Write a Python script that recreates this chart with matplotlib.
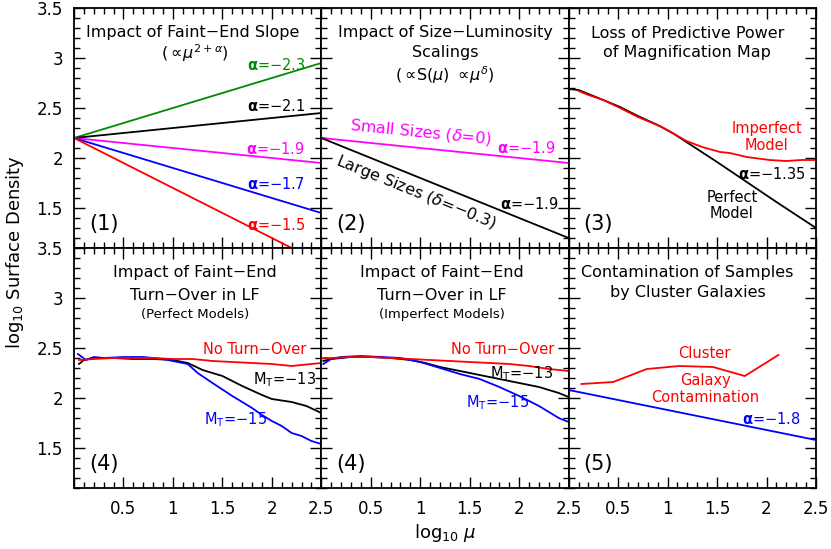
import numpy as np
import matplotlib
matplotlib.use('Agg')
import matplotlib.pyplot as plt
from matplotlib.ticker import MultipleLocator, FuncFormatter

plt.rcParams['font.family'] = ['DejaVu Sans']
plt.rcParams['mathtext.fontset'] = 'dejavusans'

# ---------------- data ----------------
# Panel (1): faint-end slope lines (start/end values)
p1_x = [0.0, 2.5]
p1_start = 2.2
p1_end = [2.95, 2.45, 1.95, 1.45, 0.95]
p1_labels = ['−2.3', '−2.1', '−1.9', '−1.7', '−1.5']
p1_colors = ['#008c00', 'black', '#ff00ff', '#0000ff', '#ff0000']
p1_lab_x = [2.04, 2.04, 2.04, 2.04, 2.04]
p1_lab_y = [2.93, 2.52, 2.09, 1.74, 1.33]

# Panel (2): size-luminosity scalings
p2_x = [0.0, 2.5]
p2_small = [2.2, 1.95]
p2_large = [2.2, 1.2]

# Panel (3): magnification map
p3_perfect_x = [0.0, 0.1, 0.2, 0.35, 0.52, 0.7, 0.92, 1.05, 1.19, 1.5, 1.8, 2.1, 2.5]
p3_perfect_y = [2.69, 2.68, 2.64, 2.58, 2.51, 2.42, 2.32, 2.25, 2.16, 1.96, 1.76, 1.56, 1.30]
p3_imperf_x = [0.1, 0.2, 0.35, 0.52, 0.7, 0.92, 1.05, 1.19, 1.35, 1.53, 1.63, 1.8, 2.03, 2.2, 2.35, 2.5]
p3_imperf_y = [2.67, 2.63, 2.58, 2.50, 2.41, 2.32, 2.25, 2.17, 2.11, 2.06, 2.05, 2.01, 1.98, 1.97, 1.98, 1.98]

# Panel (4) perfect models, turn-over
p4_red_x = [0.05, 0.2, 0.4, 0.6, 0.8, 1.0, 1.2, 1.4, 1.6, 1.8, 2.0, 2.2, 2.4, 2.5]
p4_red_y = [2.38, 2.39, 2.40, 2.40, 2.40, 2.39, 2.39, 2.37, 2.36, 2.35, 2.34, 2.32, 2.34, 2.35]
p4_blk_x = [0.05, 0.1, 0.2, 0.4, 0.6, 0.8, 1.0, 1.15, 1.3, 1.5, 1.7, 1.9, 2.0, 2.2, 2.35, 2.5]
p4_blk_y = [2.34, 2.38, 2.40, 2.40, 2.39, 2.39, 2.38, 2.35, 2.28, 2.22, 2.12, 2.03, 1.99, 1.96, 1.92, 1.85]
p4_blu_x = [0.04, 0.12, 0.2, 0.3, 0.5, 0.7, 0.9, 1.0, 1.15, 1.25, 1.4, 1.6, 1.8, 1.9, 2.0, 2.1, 2.2, 2.3, 2.4, 2.5]
p4_blu_y = [2.44, 2.38, 2.41, 2.40, 2.41, 2.41, 2.39, 2.37, 2.34, 2.25, 2.15, 2.02, 1.90, 1.83, 1.77, 1.72, 1.65, 1.62, 1.57, 1.54]

# Panel (4) imperfect models, turn-over
p5_red_x = [0.02, 0.1, 0.3, 0.5, 0.7, 0.9, 1.1, 1.3, 1.5, 1.7, 1.9, 2.1, 2.3, 2.5]
p5_red_y = [2.40, 2.40, 2.41, 2.41, 2.40, 2.39, 2.38, 2.37, 2.36, 2.35, 2.34, 2.32, 2.29, 2.27]
p5_blk_x = [0.02, 0.1, 0.3, 0.5, 0.7, 0.9, 1.05, 1.2, 1.4, 1.6, 1.8, 2.0, 2.2, 2.4, 2.5]
p5_blk_y = [2.37, 2.39, 2.41, 2.41, 2.40, 2.38, 2.35, 2.31, 2.27, 2.23, 2.19, 2.15, 2.11, 2.05, 2.01]
p5_blu_x = [0.02, 0.1, 0.2, 0.4, 0.6, 0.8, 1.0, 1.2, 1.4, 1.6, 1.8, 2.0, 2.2, 2.4, 2.5]
p5_blu_y = [2.34, 2.39, 2.41, 2.42, 2.41, 2.40, 2.36, 2.30, 2.24, 2.19, 2.11, 2.02, 1.92, 1.80, 1.76]

# Panel (5): cluster contamination
p6_red_x = [0.13, 0.45, 0.79, 1.12, 1.46, 1.78, 2.12]
p6_red_y = [2.14, 2.16, 2.29, 2.32, 2.31, 2.22, 2.43]
p6_blu_x = [0.0, 2.5]
p6_blu_y = [2.08, 1.58]

# ---------------- figure ----------------
W, H = 831, 549
fig, axes = plt.subplots(2, 3, figsize=(W / 100, H / 100), dpi=100)
fig.subplots_adjust(left=74 / W, right=816 / W, top=1 - 8 / H, bottom=1 - 488 / H,
                    wspace=0, hspace=0)

RED, BLUE, MAG, GRN = '#ff0000', '#0000ff', '#ff00ff', '#008c00'
LW = 1.3
TFS = 11.5
LFS = 10.5
NFS = 15

fmt = FuncFormatter(lambda v, p: '' if abs(v) < 1e-9 else ('%g' % v))

for i, ax in enumerate(axes.flat):
    r, c = divmod(i, 3)
    ax.set_xlim(0, 2.5)
    ax.set_ylim(1.1, 3.5)
    ax.xaxis.set_major_locator(MultipleLocator(0.5))
    ax.xaxis.set_minor_locator(MultipleLocator(0.1))
    ax.yaxis.set_major_locator(MultipleLocator(0.5))
    ax.yaxis.set_minor_locator(MultipleLocator(0.1))
    ax.xaxis.set_major_formatter(fmt)
    ax.yaxis.set_major_formatter(FuncFormatter(lambda v, p: '%g' % v))
    ax.tick_params(which='both', direction='in', top=True, right=True,
                   labelsize=12, width=1.0, colors='black')
    ax.tick_params(which='major', length=8)
    ax.tick_params(which='minor', length=4)
    ax.tick_params(axis='y', pad=8)
    ax.tick_params(axis='x', pad=9)
    if c != 0:
        ax.tick_params(labelleft=False)
    if r != 1:
        ax.tick_params(labelbottom=False)
    for s in ax.spines.values():
        s.set_linewidth(1.3)


def angle(ax, x0, y0, x1, y1):
    p0 = ax.transData.transform((x0, y0))
    p1 = ax.transData.transform((x1, y1))
    return np.degrees(np.arctan2(p1[1] - p0[1], p1[0] - p0[0]))


# Panel (1)
ax = axes[0, 0]
for ye, lab, col, lx, ly in zip(p1_end, p1_labels, p1_colors, p1_lab_x, p1_lab_y):
    ax.plot(p1_x, [p1_start, ye], color=col, lw=LW)
    ax.text(lx, ly, r'$\mathbf{\alpha}$=' + lab, color=col, fontsize=LFS,
            ha='center', va='center')
ax.text(1.2, 3.25, 'Impact of Faint−End Slope', fontsize=TFS, ha='center', va='center')
ax.text(1.22, 3.05, r'($\propto\!\mu^{2+\alpha}$)', fontsize=TFS, ha='center', va='center')
ax.text(0.15, 1.34, '(1)', fontsize=NFS, ha='left', va='center')

# Panel (2)
ax = axes[0, 1]
ax.plot(p2_x, p2_small, color=MAG, lw=LW)
ax.plot(p2_x, p2_large, color='black', lw=LW)
a_s = angle(ax, p2_x[0], p2_small[0], p2_x[1], p2_small[1])
a_l = angle(ax, p2_x[0], p2_large[0], p2_x[1], p2_large[1])
ax.text(1.0, 2.255, r'Small Sizes ($\delta$=0)', color=MAG, fontsize=TFS,
        ha='center', va='center', rotation=a_s, rotation_mode='anchor')
ax.text(2.07, 2.10, r'$\mathbf{\alpha}$=−1.9', color=MAG, fontsize=LFS, ha='center', va='center')
ax.text(0.96, 1.66, r'Large Sizes ($\delta$=−0.3)', color='black', fontsize=TFS,
        ha='center', va='center', rotation=a_l, rotation_mode='anchor')
ax.text(2.1, 1.54, r'$\mathbf{\alpha}$=−1.9', color='black', fontsize=LFS, ha='center', va='center')
ax.text(1.25, 3.25, 'Impact of Size−Luminosity', fontsize=TFS, ha='center', va='center')
ax.text(1.25, 3.05, 'Scalings', fontsize=TFS, ha='center', va='center')
ax.text(1.25, 2.83, r'($\propto\!$S($\mu$) $\propto\!\mu^{\delta}$)', fontsize=TFS, ha='center', va='center')
ax.text(0.15, 1.34, '(2)', fontsize=NFS, ha='left', va='center')

# Panel (3)
ax = axes[0, 2]
ax.plot(p3_perfect_x, p3_perfect_y, color='black', lw=LW)
ax.plot(p3_imperf_x, p3_imperf_y, color=RED, lw=LW)
ax.text(1.2, 3.25, 'Loss of Predictive Power', fontsize=TFS, ha='center', va='center')
ax.text(1.2, 3.05, 'of Magnification Map', fontsize=TFS, ha='center', va='center')
ax.text(2.0, 2.30, 'Imperfect', color=RED, fontsize=LFS, ha='center', va='center')
ax.text(2.0, 2.13, 'Model', color=RED, fontsize=LFS, ha='center', va='center')
ax.text(2.05, 1.84, r'$\mathbf{\alpha}$=−1.35', color='black', fontsize=LFS, ha='center', va='center')
ax.text(1.65, 1.60, 'Perfect', color='black', fontsize=LFS, ha='center', va='center')
ax.text(1.65, 1.44, 'Model', color='black', fontsize=LFS, ha='center', va='center')
ax.text(0.15, 1.34, '(3)', fontsize=NFS, ha='left', va='center')

# Panels (4)
for ax, rx, ry, kx, ky, bx, by, sub, m13, m15 in [
        (axes[1, 0], p4_red_x, p4_red_y, p4_blk_x, p4_blk_y, p4_blu_x, p4_blu_y,
         '(Perfect Models)', (2.13, 2.18), (1.63, 1.78)),
        (axes[1, 1], p5_red_x, p5_red_y, p5_blk_x, p5_blk_y, p5_blu_x, p5_blu_y,
         '(Imperfect Models)', (2.02, 2.24), (1.78, 1.95))]:
    ax.plot(rx, ry, color=RED, lw=LW, zorder=3)
    ax.plot(kx, ky, color='black', lw=LW, zorder=2)
    ax.plot(bx, by, color=BLUE, lw=LW, zorder=2.5)
    ax.text(1.22, 3.25, 'Impact of Faint−End', fontsize=TFS, ha='center', va='center')
    ax.text(1.22, 3.03, 'Turn−Over in LF', fontsize=TFS, ha='center', va='center')
    ax.text(1.22, 2.83, sub, fontsize=9.5, ha='center', va='center')
    ax.text(1.83, 2.48, 'No Turn−Over', color=RED, fontsize=LFS, ha='center', va='center')
    ax.text(m13[0], m13[1], r'M$_\mathrm{T}$=−13', color='black', fontsize=LFS, ha='center', va='center')
    ax.text(m15[0], m15[1], r'M$_\mathrm{T}$=−15', color=BLUE, fontsize=LFS, ha='center', va='center')
    ax.text(0.15, 1.34, '(4)', fontsize=NFS, ha='left', va='center')

# Panel (5)
ax = axes[1, 2]
ax.plot(p6_red_x, p6_red_y, color=RED, lw=LW)
ax.plot(p6_blu_x, p6_blu_y, color=BLUE, lw=LW)
ax.text(1.20, 3.25, 'Contamination of Samples', fontsize=TFS, ha='center', va='center')
ax.text(1.20, 3.05, 'by Cluster Galaxies', fontsize=TFS, ha='center', va='center')
ax.text(1.37, 2.44, 'Cluster', color=RED, fontsize=LFS, ha='center', va='center')
ax.text(1.38, 2.17, 'Galaxy', color=RED, fontsize=LFS, ha='center', va='center')
ax.text(1.38, 2.01, 'Contamination', color=RED, fontsize=LFS, ha='center', va='center')
ax.text(2.05, 1.79, r'$\mathbf{\alpha}$=−1.8', color=BLUE, fontsize=LFS, ha='center', va='center')
ax.text(0.15, 1.34, '(5)', fontsize=NFS, ha='left', va='center')

fig.text(15 / W, 1 - 252 / H, r'log$_{10}$ Surface Density', rotation=90,
         fontsize=13, ha='center', va='center')
fig.text(445 / W, 1 - 533 / H, r'log$_{10}$ $\mu$', fontsize=13, ha='center', va='center')

fig.savefig('out.png', dpi=100)
